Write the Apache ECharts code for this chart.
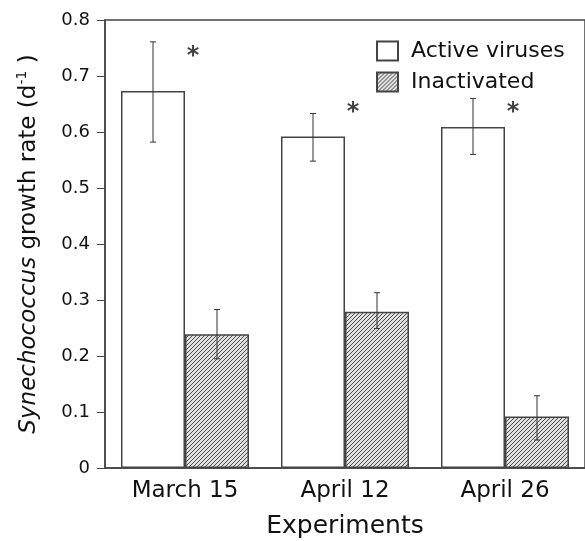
<!DOCTYPE html>
<html>
<head>
<meta charset="utf-8">
<script src="https://cdn.jsdelivr.net/npm/echarts@6/dist/echarts.min.js"></script>
<style>
  html, body { margin: 0; padding: 0; background: #fff; }
  #chart { width: 585px; height: 541px; }
</style>
</head>
<body>
<div id="chart"></div>
<script>
const experiments = ['March 15', 'April 12', 'April 26'];
const activeRate = [0.673, 0.592, 0.609];
const activeErr = [[0, 0.582, 0.761], [1, 0.548, 0.633], [2, 0.560, 0.660]];
const inactRate = [0.239, 0.279, 0.092];
const inactErr = [[0, 0.195, 0.283], [1, 0.249, 0.313], [2, 0.050, 0.129]];
const stars = [[0, 0.745], [1, 0.645], [2, 0.645]];

const ink = '#444';
const font = 'DejaVu Sans';

// diagonal hatch tile
function hatch() {
    const c = document.createElement('canvas');
    c.width = 4; c.height = 4;
    const g = c.getContext('2d');
    g.fillStyle = '#e0e0e0';
    g.fillRect(0, 0, 4, 4);
    g.strokeStyle = '#4a4a4a';
    g.lineWidth = 1;
    g.beginPath();
    g.moveTo(0, 4); g.lineTo(4, 0);
    g.moveTo(-1, 1); g.lineTo(1, -1);
    g.moveTo(3, 5); g.lineTo(5, 3);
    g.stroke();
    return { image: c, repeat: 'repeat' };
}

const BAR = 64;

function errBars(offset) {
    return function (params, api) {
        const i = api.value(0);
        const x = api.coord([i, 0])[0] + offset;
        const lo = api.coord([i, api.value(1)])[1];
        const hi = api.coord([i, api.value(2)])[1];
        const st = { stroke: '#333', lineWidth: 1 };
        return {
            type: 'group',
            children: [
                { type: 'line', shape: { x1: x, y1: lo, x2: x, y2: hi }, style: st },
                { type: 'line', shape: { x1: x - 3, y1: lo, x2: x + 3, y2: lo }, style: st },
                { type: 'line', shape: { x1: x - 3, y1: hi, x2: x + 3, y2: hi }, style: st }
            ]
        };
    };
}

const chart = echarts.init(document.getElementById('chart'), null, { renderer: 'canvas' });
const pattern = hatch();

chart.setOption({
    animation: false,
    grid: {
        left: 105, right: 0, top: 20, bottom: 73,
        outerBoundsMode: 'none',
        show: true, borderColor: ink, borderWidth: 1.5
    },
    legend: {
        orient: 'vertical',
        left: 371, top: 35,
        itemWidth: 21, itemHeight: 19, itemGap: 9,
        icon: 'rect',
        textStyle: { fontFamily: font, fontSize: 22, color: '#111', padding: [0, 0, 0, 8] },
        data: ['Active viruses', 'Inactivated']
    },
    xAxis: {
        type: 'category',
        data: experiments,
        axisLine: { lineStyle: { color: ink, width: 1.5 } },
        axisTick: { length: 5, lineStyle: { color: ink } },
        axisLabel: { fontFamily: font, fontSize: 23, color: '#111', margin: 12 },
        name: 'Experiments',
        nameLocation: 'middle',
        nameGap: 46,
        nameTextStyle: { fontFamily: font, fontSize: 25, color: '#111' }
    },
    yAxis: {
        type: 'value',
        min: 0, max: 0.8, interval: 0.1,
        splitLine: { show: false },
        axisLine: { show: true, lineStyle: { color: ink, width: 1.5 } },
        axisTick: { show: true, length: 8, lineStyle: { color: ink } },
        axisLabel: { fontFamily: font, fontSize: 18, color: '#111', margin: 15 },
        name: '{i|Synechococcus} growth rate (d{s|-1} )',
        nameLocation: 'middle',
        nameRotate: 90,
        nameGap: 62,
        nameTextStyle: {
            fontFamily: font, fontSize: 23, color: '#111',
            rich: {
                i: { fontFamily: font, fontSize: 23, fontStyle: 'italic', color: '#111' },
                s: { fontFamily: font, fontSize: 14, color: '#111', verticalAlign: 'top', lineHeight: 28 }
            }
        }
    },
    series: [
        {
            name: 'Active viruses', type: 'bar', data: activeRate,
            barWidth: BAR, barGap: '0%',
            itemStyle: { color: '#fff', borderColor: ink, borderWidth: 1.5 }
        },
        {
            name: 'Inactivated', type: 'bar', data: inactRate,
            barWidth: BAR, barGap: '0%',
            itemStyle: { color: pattern, borderColor: ink, borderWidth: 1.5 }
        },
        {
            type: 'custom', data: activeErr, renderItem: errBars(-BAR / 2),
            encode: { x: 0, y: [1, 2] }, z: 5, silent: true
        },
        {
            type: 'custom', data: inactErr, renderItem: errBars(BAR / 2),
            encode: { x: 0, y: [1, 2] }, z: 5, silent: true
        },
        {
            type: 'scatter', data: stars, symbolSize: 0, silent: true,
            label: {
                show: true, position: 'inside', formatter: '*',
                fontFamily: font, fontWeight: 'bold', fontSize: 24, color: '#111', offset: [8, 6]
            }
        }
    ]
});
</script>
</body>
</html>
